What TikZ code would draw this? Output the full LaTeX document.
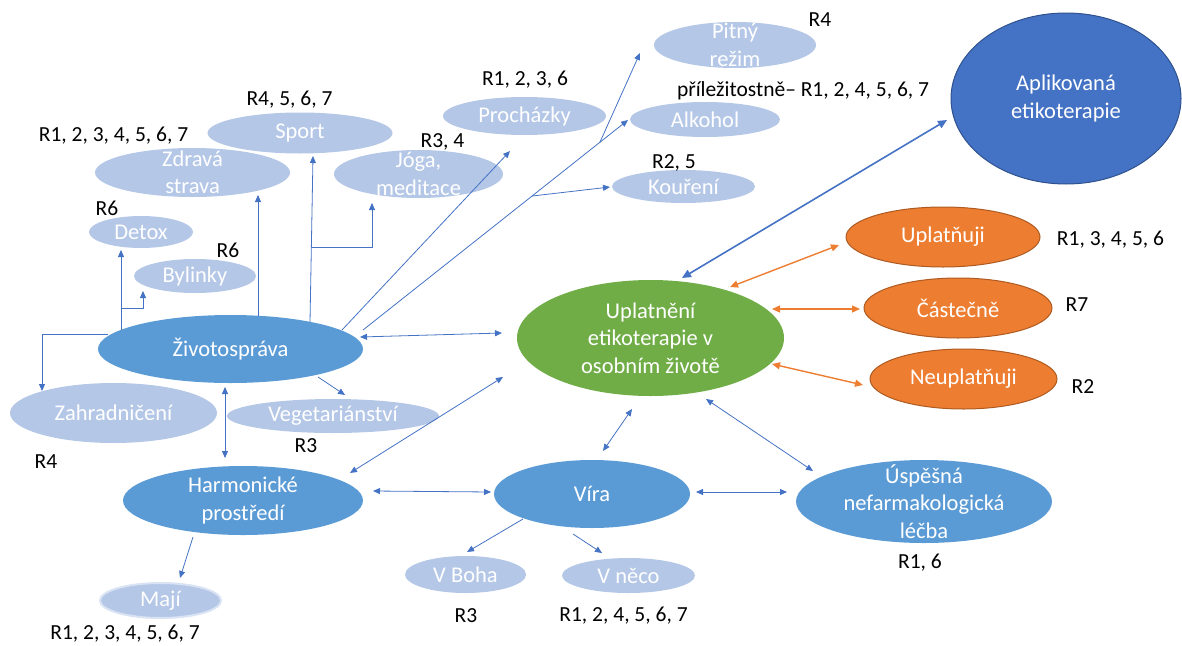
\documentclass[tikz,border=0pt]{standalone}
\usepackage{fontspec}
\setmainfont{Carlito}
\usetikzlibrary{shapes.geometric,arrows.meta,calc}

\definecolor{pale}{HTML}{B4C7E7}
\definecolor{mid}{HTML}{5B9BD5}
\definecolor{deep}{HTML}{4472C4}
\definecolor{deepedge}{HTML}{2F528F}
\definecolor{leaf}{HTML}{70AD47}
\definecolor{amber}{HTML}{ED7D31}
\definecolor{amberedge}{HTML}{AE5A21}
\definecolor{linkblue}{HTML}{4472C4}
\definecolor{glow}{HTML}{D9E3F3}

% ellipse with its centred caption: style, name, x, y, width, height, text
\newcommand\ovalnode[7]{%
  \node[#1, minimum width=#5pt, minimum height=#6pt] (#2) at (#3,#4) {};
  \node[ntext] (#2-t) at (#2.center) {#7};}

\begin{document}
\begin{tikzpicture}[x=1pt,y=-1pt,
  oval/.style={ellipse, inner sep=0pt, draw=none},
  paleoval/.style={oval, fill=pale},
  midoval/.style={oval, fill=mid},
  leafoval/.style={oval, fill=leaf},
  deepoval/.style={oval, fill=deep, draw=deepedge, line width=1pt},
  amberoval/.style={oval, fill=amber, draw=amberedge, line width=1pt},
  ntext/.style={text=white, align=center, inner sep=0pt,
    font=\fontsize{22.5}{27.5}\selectfont},
  rlabel/.style={text=black, inner sep=0pt, font=\fontsize{21.5}{26}\selectfont},
  tip/.style={Triangle[length=7pt,width=6pt]},
  arr/.style={draw=linkblue, line width=0.8pt, -{Triangle[length=7pt,width=6pt]}},
  darr/.style={draw=linkblue, line width=0.8pt,
    {Triangle[length=7pt,width=6pt]}-{Triangle[length=7pt,width=6pt]}},
  bigarr/.style={draw=linkblue, line width=1.6pt,
    {Triangle[length=9pt,width=8pt]}-{Triangle[length=9pt,width=8pt]}},
  amberarr/.style={draw=amber, line width=1.4pt,
    {Triangle[length=8pt,width=7pt]}-{Triangle[length=8pt,width=7pt]}}
]
\useasboundingbox (0,0) rectangle (1182,645);

% --- ellipses ---
\ovalnode{midoval}{zivot}{230.5}{349}{265}{68}{Životospráva}
\ovalnode{paleoval}{zdrava}{192.5}{172.5}{195}{49}{Zdravá\\strava}
\ovalnode{paleoval}{sport}{300}{133}{185}{41}{Sport}
\ovalnode{paleoval}{detox}{141}{232}{104}{32}{Detox}
\ovalnode{paleoval}{bylinky}{195}{276}{122}{34}{Bylinky}
\ovalnode{paleoval}{joga}{418.5}{174}{169}{48}{Jóga,\\meditace}
\ovalnode{paleoval}{prochazky}{524.5}{116}{163}{38}{Procházky}
\ovalnode{paleoval}{pitny}{735}{45}{162}{46}{Pitný\\režim}
\ovalnode{paleoval}{alkohol}{705}{119.5}{150}{35}{Alkohol}
\ovalnode{paleoval}{koureni}{683.5}{186.5}{143}{33}{Kouření}
\ovalnode{deepoval}{aplik}{1066}{98.5}{230}{171}{Aplikovaná\\etikoterapie}
\ovalnode{leafoval}{uplat}{650.5}{338}{267}{116}{Uplatnění\\etikoterapie v\\osobním životě}
\ovalnode{amberoval}{uplatnuji}{943}{237}{194}{60}{Uplatňuji}
\ovalnode{amberoval}{castecne}{958}{308}{188}{60}{Částečně}
\ovalnode{amberoval}{neuplatnuji}{963.5}{379}{187}{60}{Neuplatňuji}
\ovalnode{paleoval}{zahrad}{113.5}{413}{207}{60}{Zahradničení}
\ovalnode{paleoval}{veget}{333}{416}{212}{34}{Vegetariánství}
\ovalnode{midoval}{harmon}{243}{500.5}{240}{69}{Harmonické\\prostředí}
\ovalnode{midoval}{vira}{592}{494}{196}{68}{Víra}
\ovalnode{midoval}{uspesna}{924}{501.5}{256}{83}{Úspěšná\\nefarmakologická\\léčba}
\ovalnode{paleoval, draw=glow, line width=2pt}{maji}{160.5}{600.5}{121}{35}{Mají}
\ovalnode{paleoval}{vboha}{465.5}{574.5}{121}{37}{V Boha}
\ovalnode{paleoval}{vneco}{628.5}{575.5}{133}{35}{V něco}

% --- respondent labels ---
\node[rlabel] (l-zdrava) at (113.5,136) {R1, 2, 3, 4, 5, 6, 7};
\node[rlabel] (l-sport) at (289.5,100) {R4, 5, 6, 7};
\node[rlabel] (l-detox) at (107,208) {R6};
\node[rlabel] (l-bylinky) at (228,250) {R6};
\node[rlabel] (l-joga) at (442.5,142) {R3, 4};
\node[rlabel] (l-proch) at (525,80) {R1, 2, 3, 6};
\node[rlabel] (l-pitny) at (820,20) {R4};
\node[rlabel] (l-alkohol) at (803,91) {příležitostně– R1, 2, 4, 5, 6, 7};
\node[rlabel] (l-koureni) at (674,163) {R2, 5};
\node[rlabel] (l-uplatnuji) at (1110.5,240) {R1, 3, 4, 5, 6};
\node[rlabel] (l-castecne) at (1077,305) {R7};
\node[rlabel] (l-neupl) at (1083,387) {R2};
\node[rlabel] (l-uspesna) at (920,563) {R1, 6};
\node[rlabel] (l-veget) at (306,446) {R3};
\node[rlabel] (l-zahrad) at (46,462) {R4};
\node[rlabel] (l-maji) at (125,634) {R1, 2, 3, 4, 5, 6, 7};
\node[rlabel] (l-vboha) at (466,616) {R3};
\node[rlabel] (l-vneco) at (623.5,616) {R1, 2, 4, 5, 6, 7};

% --- branches of Životospráva ---
\draw[arr] ([shift={(-109.5,-19)}]zivot.center) -- ([shift={(-20,18)}]detox.center);
\draw[arr] ([shift={(-109.5,-41)}]zivot.center) -| ([shift={(-52,15)}]bylinky.center);
\draw[arr] ([shift={(27.5,-33)}]zivot.center) -- ([shift={(65.5,22.5)}]zdrava.center);
\draw[arr] ([shift={(79.5,-27)}]zivot.center) -- ([shift={(13,23)}]sport.center);
\draw[arr] ([shift={(81,-102)}]zivot.center) -| ([shift={(-46.5,29)}]joga.center);
\draw[arr] ([shift={(-122.5,-15)}]zivot.center) -| ([shift={(-71.5,-22)}]zahrad.center);
\draw[arr] ([shift={(87.5,28)}]zivot.center) -- ([shift={(12,-21)}]veget.center);
\draw[arr] ([shift={(111.5,-19)}]zivot.center) -- ([shift={(-14.5,35)}]prochazky.center);

% trunk towards Alkohol with branches to Kouření and Pitný režim
\coordinate (t0) at ([shift={(132.5,-19)}]zivot.center);
\coordinate (t1) at ([shift={(-77,0.5)}]alkohol.center);
\coordinate (jk) at ($(t0)!0.638!(t1)$);
\coordinate (jp) at ($(t0)!0.894!(t1)$);
\draw[arr] (t0) -- (t1);
\draw[arr] (jk) -- ([shift={(-73.5,0.5)}]koureni.center);
\draw[arr] (jp) -- ([shift={(-95,8)}]pitny.center);

% --- links between the main themes ---
\draw[darr] ([shift={(-5.5,38)}]zivot.center) -- ([shift={(-18,-42.5)}]harmon.center);
\draw[darr] ([shift={(129.5,-12)}]zivot.center) -- ([shift={(-148.5,-5)}]uplat.center);
\draw[darr] ([shift={(107,-27.5)}]harmon.center) -- ([shift={(-147.5,39)}]uplat.center);
\draw[darr] ([shift={(130,-9.5)}]harmon.center) -- ([shift={(-101,-2)}]vira.center);
\draw[arr] ([shift={(-50,36.5)}]harmon.center) -- ([shift={(19.5,-22.5)}]maji.center);
\draw[darr] ([shift={(11,-43)}]vira.center) -- ([shift={(-18.5,71)}]uplat.center);
\draw[darr] ([shift={(104,-2)}]vira.center) -- ([shift={(-137,-9.5)}]uspesna.center);
\draw[darr] ([shift={(55.5,61)}]uplat.center) -- ([shift={(-111,-30.5)}]uspesna.center);
\draw[arr] ([shift={(-69,25)}]vira.center) -- ([shift={(1.5,-22.5)}]vboha.center);
\draw[arr] ([shift={(-19,40)}]vira.center) -- ([shift={(-26.5,-22.5)}]vneco.center);

% --- applied ethotherapy and its degrees ---
\draw[bigarr] ([shift={(31.5,-60)}]uplat.center) -- ([shift={(-119,21.5)}]aplik.center);
\draw[amberarr] ([shift={(79.5,-51)}]uplat.center) -- ([shift={(-104,8)}]uplatnuji.center);
\draw[amberarr] ([shift={(121.5,-29)}]uplat.center) -- ([shift={(-98,1)}]castecne.center);
\draw[amberarr] ([shift={(121.5,26)}]uplat.center) -- ([shift={(-100.5,6)}]neuplatnuji.center);
\end{tikzpicture}
\end{document}
